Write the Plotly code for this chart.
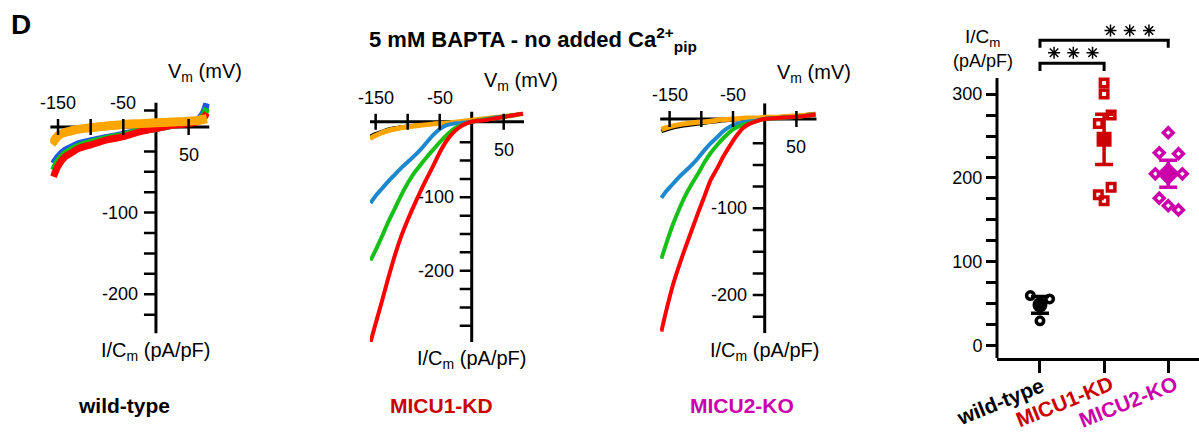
import plotly.graph_objects as go

W, H = 1199, 432
FONT = "Liberation Sans, Arial, Helvetica, sans-serif"

# ---------------- I/V data (Vm in mV, I/Cm in pA/pF) ----------------
# wild-type
WT_V = [-157, -150, -140, -130, -120, -100, -75, -50, -25, 0, 25, 50, 65, 72, 78]
WT_BLUE = [-40, -32, -24, -20, -16, -12, -8, -4, 0, 3, 7, 10, 14, 21, 34]
WT_GREEN = [-48, -37, -28, -23, -19, -14, -9, -5, 0, 3, 7, 10, 13, 18, 28]
WT_RED = [-56, -43, -32, -27, -22, -17, -11, -7, -1, 3, 7, 9, 12, 15, 22]
WT_ORANGE_V = [-160, -155, -150, -140, -130, -120, -100, -75, -50, -25, 0, 25, 50, 65, 78]
WT_ORANGE = [-16, -11, -6, -2, 0, 2, 4, 6, 8, 9, 10, 11, 12, 13, 15]

# MICU1-KD
KD_V = [-158, -150, -140, -130, -120, -110, -100, -90, -80, -70, -60, -50, -40, -30, -20, -10, 0, 20, 40, 60, 80]
KD_RED = [-297, -272, -241, -209, -179, -153, -131, -111, -92, -74, -57, -39, -24, -13, -5, 0, 3, 5, 8, 11, 14]
KD_GREEN = [-186, -172, -153, -133, -115, -97, -81, -67, -56, -45, -35, -25, -16, -8, -3, 0, 3, 6, 8, 11, 14]
KD_BLUE = [-108, -98, -88, -78, -69, -60, -52, -44, -35, -25, -15, -7, -2, 0, 1, 2, 3, 6, 9, 11, 14]
KD_LOW_V = [-159, -150, -140, -130, -120, -100, -80, -60, -40, -20, 0, 20, 40, 60, 80]
KD_ORANGE = [-20, -16, -12, -9, -7, -4, -2, 0, 1, 3, 5, 7, 9, 11, 14]
KD_BLACK = [-17, -13, -10, -7, -5, -3, -1, 0, 1, 3, 5, 7, 9, 11, 14]

# MICU2-KO
KO_V = [-163, -155, -145, -135, -125, -115, -105, -95, -85, -75, -65, -55, -45, -35, -25, -15, 0, 20, 40, 60, 80]
KO_RED = [-242, -217, -189, -166, -145, -125, -105, -86, -67, -54, -40, -28, -17, -8, -3, 0, 3, 4, 5, 6, 8]
KO_GREEN = [-158, -140, -119, -101, -85, -72, -60, -47, -36, -27, -19, -12, -7, -4, -2, 0, 3, 4, 5, 6, 8]
KO_BLUE = [-88, -80, -72, -64, -57, -50, -42, -33, -25, -18, -11, -6, -3, -1, 0, 1, 3, 4, 5, 6, 8]
KO_LOW_V = [-163, -150, -130, -110, -90, -70, -50, -30, -10, 0, 20, 40, 60, 80]
KO_ORANGE = [-9, -6, -3, -1, 0, 2, 3, 4, 4, 5, 5, 6, 7, 8]
KO_BLACK = [-11, -8, -5, -3, -1, 1, 2, 3, 4, 4, 5, 6, 7, 9]

# ---------------- summary (peak I/Cm, pA/pF) ----------------
GROUPS = ["wild-type", "MICU1-KD", "MICU2-KO"]
WT_PTS = [60, 56, 30]
KD_PTS = [313, 300, 275, 265, 189, 180, 173]
KO_PTS = [254, 230, 229, 205, 205, 176, 167, 162]
WT_JIT = [-0.15, 0.15, 0.0]
KD_JIT = [0.0, 0.0, 0.11, -0.09, 0.11, -0.09, 0.0]
KO_JIT = [0.0, -0.14, 0.16, -0.2, 0.22, -0.14, 0.0, 0.16]
MEANS = [49, 246, 205]
SEMS = [10, 30, 16]
SIG_PAIRS = [(0, 1), (0, 2)]

X_TICKS = [-150, -100, -50, 50]
X_TICK_TEXT = {-150: "-150", -50: "-50", 50: "50"}

# ---------------- styles ----------------
BLACK = "#000000"
RED = "#FF0000"
GREEN = "#16C016"
ORANGE = "#FFA500"
BLUE1 = "#1F55EE"
BLUE2 = "#1E88CF"
KD_COL = "#CC0000"
KO_COL = "#CC00AA"
GROUP_COLORS = [BLACK, KD_COL, KO_COL]
EPS = 1e-6  # anchor just off zero (a literal 0 anchor is ignored)


def dom(box):
    l, t, r, b = box
    return [l / W, r / W], [1 - b / H, 1 - t / H]


PANELS = [
    dict(xr=(-162, 82), yr=(-248, 35), box=(50.2, 102.4, 209.5, 333.4), cross=5,
         yticks=[25] + list(range(-25, -250, -25)),
         traces=[(WT_V, WT_BLUE, BLUE1, 7), (WT_V, WT_GREEN, GREEN, 7),
                 (WT_V, WT_RED, RED, 7), (WT_ORANGE_V, WT_ORANGE, ORANGE, 9)]),
    dict(xr=(-159, 82), yr=(-297, 17), box=(369.9, 111.4, 524.2, 341.9), cross=3,
         yticks=list(range(-25, -300, -25)),
         traces=[(KD_LOW_V, KD_BLACK, BLACK, 3), (KD_LOW_V, KD_ORANGE, ORANGE, 5),
                 (KD_V, KD_BLUE, BLUE2, 4), (KD_V, KD_GREEN, GREEN, 4), (KD_V, KD_RED, RED, 4)]),
    dict(xr=(-165, 82), yr=(-244, 21), box=(660.1, 103.3, 816.7, 333.3), cross=3,
         yticks=list(range(-25, -250, -25)),
         traces=[(KO_LOW_V, KO_BLACK, BLACK, 4), (KO_LOW_V, KO_ORANGE, ORANGE, 5),
                 (KO_V, KO_BLUE, BLUE2, 4), (KO_V, KO_GREEN, GREEN, 4), (KO_V, KO_RED, RED, 4)]),
]

fig = go.Figure()
shapes = []
annots = []
layout = dict(
    width=W, height=H, margin=dict(l=0, r=0, t=0, b=0),
    paper_bgcolor="white", plot_bgcolor="rgba(0,0,0,0)", showlegend=False,
    font=dict(family=FONT, color="black"),
)

for i, p in enumerate(PANELS, start=1):
    xs = "" if i == 1 else str(i)
    xref, yref = "x" + xs, "y" + xs
    xd, yd = dom(p["box"])
    layout["xaxis" + xs] = dict(domain=xd, range=list(p["xr"]), visible=False, fixedrange=True,
                                anchor=yref)
    layout["yaxis" + xs] = dict(domain=yd, range=list(p["yr"]), visible=False, fixedrange=True,
                                anchor=xref)
    for vx, iy, col, lw in p["traces"]:
        fig.add_trace(go.Scatter(x=vx, y=iy, mode="lines", xaxis=xref, yaxis=yref,
                                 line=dict(color=col, width=lw, shape="spline", smoothing=0.8),
                                 hoverinfo="skip"))
    c = p["cross"]
    # axes
    shapes.append(dict(type="line", xref=xref, yref=yref, x0=p["xr"][0], x1=p["xr"][1], y0=c, y1=c,
                       line=dict(color="black", width=3), layer="below"))
    shapes.append(dict(type="line", xref=xref, yref=yref, x0=0, x1=0, y0=p["yr"][0], y1=p["yr"][1],
                       line=dict(color="black", width=3), layer="below"))
    for t in X_TICKS:
        shapes.append(dict(type="line", xref=xref, yref=yref, ysizemode="pixel", yanchor=c + EPS,
                           x0=t, x1=t, y0=-8, y1=8, line=dict(color="black", width=2.5)))
        if t in X_TICK_TEXT:
            annots.append(dict(xref=xref, yref=yref, x=t, y=c, text=X_TICK_TEXT[t], showarrow=False,
                               xanchor="center", yanchor="middle",
                               yshift=24 if t < 0 else -28, font=dict(size=18)))
    for t in p["yticks"]:
        shapes.append(dict(type="line", xref=xref, yref=yref, xsizemode="pixel", xanchor=EPS,
                           x0=-12, x1=0, y0=t, y1=t, line=dict(color="black", width=2.5)))
        if t in (-100, -200):
            annots.append(dict(xref=xref, yref=yref, x=0, y=t, text=str(t), showarrow=False,
                               xanchor="right", yanchor="middle", xshift=-16, font=dict(size=18)))
    annots.append(dict(xref=xref, yref=yref, x=0, y=p["yr"][1], text="V<sub>m</sub> (mV)",
                       showarrow=False, xanchor="left", yanchor="middle", xshift=10, yshift=30,
                       font=dict(size=20)))
    annots.append(dict(xref=xref, yref=yref, x=0, y=p["yr"][0], text="I/C<sub>m</sub> (pA/pF)",
                       showarrow=False, xanchor="center", yanchor="middle", yshift=-18,
                       font=dict(size=20)))

# ---------------- summary panel ----------------
X4R = (-0.67, 2.48)
Y4R = (-14.3, 395)
Y4_AXIS_TOP = 319
xd4, yd4 = dom((997, 14.2, 1199, 358))
layout["xaxis4"] = dict(domain=xd4, range=list(X4R), anchor="y4", showgrid=False, zeroline=False,
                        showline=True, linecolor="black", linewidth=3, ticks="outside", ticklen=12,
                        tickwidth=3, tickcolor="black", tickvals=[0, 1, 2], showticklabels=False,
                        fixedrange=True)
layout["yaxis4"] = dict(domain=yd4, range=list(Y4R), anchor="x4", showgrid=False, zeroline=False,
                        showline=False, ticks="outside", ticklen=10, tickwidth=2.5, tickcolor="black",
                        tickvals=[0, 100, 200, 300], tickfont=dict(size=18), fixedrange=True,
                        minor=dict(tickvals=[25, 50, 75, 125, 150, 175, 225, 250, 275], ticks="outside",
                                   ticklen=10, tickwidth=2.5, tickcolor="black", showgrid=False))
shapes.append(dict(type="line", xref="paper", yref="y4", x0=xd4[0], x1=xd4[0], y0=Y4R[0], y1=Y4_AXIS_TOP,
                   line=dict(color="black", width=3)))

mean_sym = ["circle", "square", "diamond"]
mean_size = [15, 15, 18]
pt_sym = ["circle-open", "square-open", "diamond-open"]
for k, (pts, jit) in enumerate([(WT_PTS, WT_JIT), (KD_PTS, KD_JIT), (KO_PTS, KO_JIT)]):
    col = GROUP_COLORS[k]
    fig.add_trace(go.Scatter(x=[k], y=[MEANS[k]], mode="markers", xaxis="x4", yaxis="y4",
                             marker=dict(symbol=mean_sym[k], size=mean_size[k], color=col),
                             error_y=dict(type="data", array=[SEMS[k]], color=col, thickness=3.5, width=9),
                             hoverinfo="skip"))
    fig.add_trace(go.Scatter(x=[k + j for j in jit], y=pts, mode="markers", xaxis="x4", yaxis="y4",
                             marker=dict(symbol=pt_sym[k], size=7.5, color=col,
                                         line=dict(width=3.5, color=col)),
                             hoverinfo="skip"))

BR_H = [336.5, 364]
BR_LEG = 9
STAR_H = [349, 375.5]
STAR_C = [0.52, 1.40]
for (a, b), h, sh, sc in zip(SIG_PAIRS, BR_H, STAR_H, STAR_C):
    fig.add_trace(go.Scatter(x=[a, a, b, b], y=[h - BR_LEG, h, h, h - BR_LEG], mode="lines",
                             xaxis="x4", yaxis="y4", line=dict(color="black", width=3), hoverinfo="skip"))
    fig.add_trace(go.Scatter(x=[sc - 0.3, sc, sc + 0.3], y=[sh] * 3, mode="markers",
                             xaxis="x4", yaxis="y4",
                             marker=dict(symbol="asterisk-open", size=10, color="black",
                                         line=dict(width=1.5, color="black")),
                             hoverinfo="skip"))

annots.append(dict(xref="paper", yref="paper", x=982 / W, y=1 - 38 / H, text="I/C<sub>m</sub>",
                   showarrow=False, xanchor="center", yanchor="middle", font=dict(size=19)))
annots.append(dict(xref="paper", yref="paper", x=983 / W, y=1 - 61 / H, text="(pA/pF)",
                   showarrow=False, xanchor="center", yanchor="middle", font=dict(size=18)))
for k, g in enumerate(GROUPS):
    annots.append(dict(xref="x4", yref="paper", x=k, y=1 - 401 / H, xshift=-40, text="<b>%s</b>" % g,
                       textangle=-22, showarrow=False, xanchor="center", yanchor="middle",
                       font=dict(size=21, color=GROUP_COLORS[k])))

# ---------------- titles and labels ----------------
annots.append(dict(xref="paper", yref="paper", x=21 / W, y=1 - 24 / H, text="<b>D</b>", showarrow=False,
                   xanchor="center", yanchor="middle", font=dict(size=28)))
annots.append(dict(xref="paper", yref="paper", x=533 / W, y=1 - 39 / H,
                   text="<b>5 mM BAPTA - no added Ca<sup>2+</sup><sub>pip</sub></b>", showarrow=False,
                   xanchor="center", yanchor="middle", font=dict(size=22)))
for (cx, g, col) in zip([124, 441.5, 742], GROUPS, GROUP_COLORS):
    annots.append(dict(xref="paper", yref="paper", x=cx / W, y=1 - 405 / H, text="<b>%s</b>" % g,
                       showarrow=False, xanchor="center", yanchor="middle", font=dict(size=21, color=col)))

layout["shapes"] = shapes
layout["annotations"] = annots
fig.update_layout(**layout)
fig.write_html("out.html", config={"displayModeBar": False})
